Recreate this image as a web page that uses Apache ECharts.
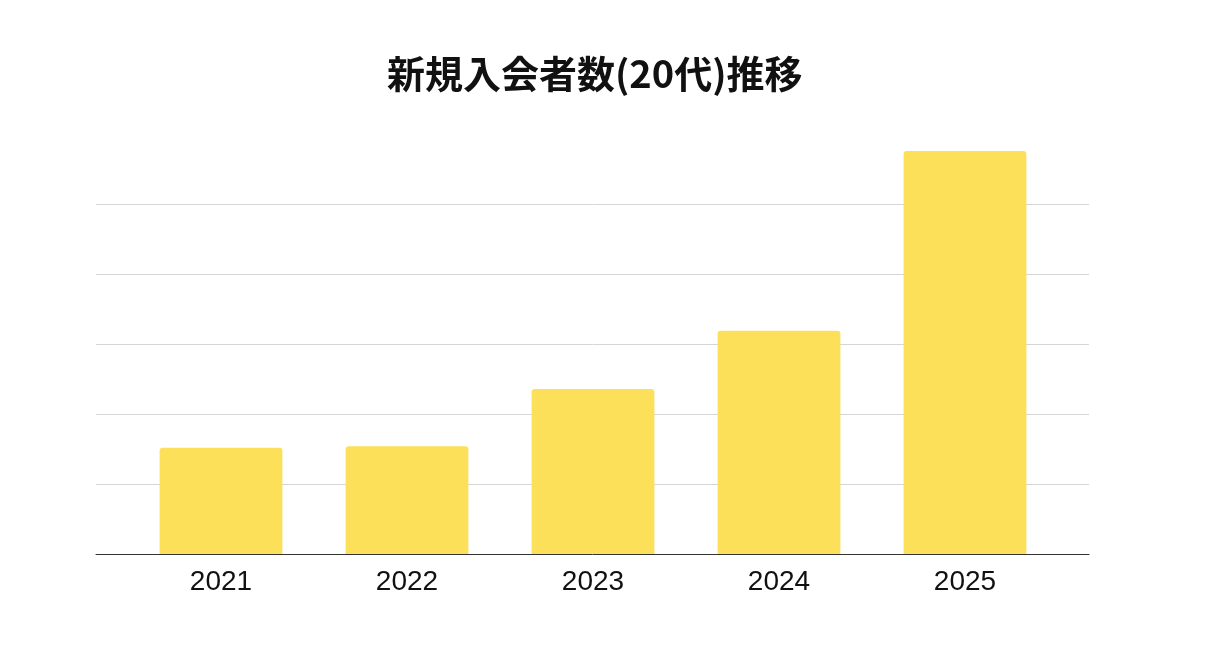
<!DOCTYPE html>
<html>
<head>
<meta charset="utf-8">
<script src="https://cdn.jsdelivr.net/npm/echarts@6/dist/echarts.min.js"></script>
<style>
html,body{margin:0;padding:0;background:#fff;}
#chart{width:1209px;height:669px;}
</style>
</head>
<body>
<div id="chart"></div>
<script>
const titleText = '新規入会者数(20代)推移';
const years = ['2021', '2022', '2023', '2024', '2025'];
const members = [152, 154, 236, 319, 576];

const yMax = Math.max(...members);
const chart = echarts.init(document.getElementById('chart'));
chart.setOption({
  backgroundColor: '#ffffff',
  animation: false,
  title: {
    text: titleText,
    left: 382,
    top: 50,
    textStyle: {
      fontFamily: '"Noto Sans CJK JP", sans-serif',
      fontSize: 38,
      fontWeight: 'bold',
      color: '#111111'
    }
  },
  grid: [
    { left: 96, right: 120, top: 151, bottom: 115 },
    { left: 128, right: 151, top: 151, bottom: 115 }
  ],
  xAxis: [
    {
      type: 'category', gridIndex: 0, data: years,
      axisLine: { show: true, lineStyle: { color: '#333333', width: 1 } },
      axisTick: { show: false }, axisLabel: { show: false }, splitLine: { show: false }
    },
    {
      type: 'category', gridIndex: 1, data: years,
      axisLine: { show: false }, axisTick: { show: false },
      axisLabel: {
        margin: 14,
        fontFamily: '"Liberation Sans", Arial, sans-serif',
        fontSize: 28,
        color: '#111111'
      }
    }
  ],
  yAxis: [
    {
      type: 'value', gridIndex: 0, min: 0, max: yMax, interval: 100,
      axisLine: { show: false }, axisTick: { show: false }, axisLabel: { show: false },
      splitLine: { show: true, showMinLine: false, showMaxLine: false, lineStyle: { color: '#d6d6d6', width: 1 } }
    },
    {
      type: 'value', gridIndex: 1, min: 0, max: yMax, interval: 100,
      axisLine: { show: false }, axisTick: { show: false }, axisLabel: { show: false },
      splitLine: { show: false }
    }
  ],
  series: [
    {
      type: 'bar', xAxisIndex: 1, yAxisIndex: 1,
      data: members,
      barCategoryGap: '34%',
      itemStyle: { color: '#FDE05A', borderRadius: [3, 3, 0, 0] }
    }
  ]
});
</script>
</body>
</html>
